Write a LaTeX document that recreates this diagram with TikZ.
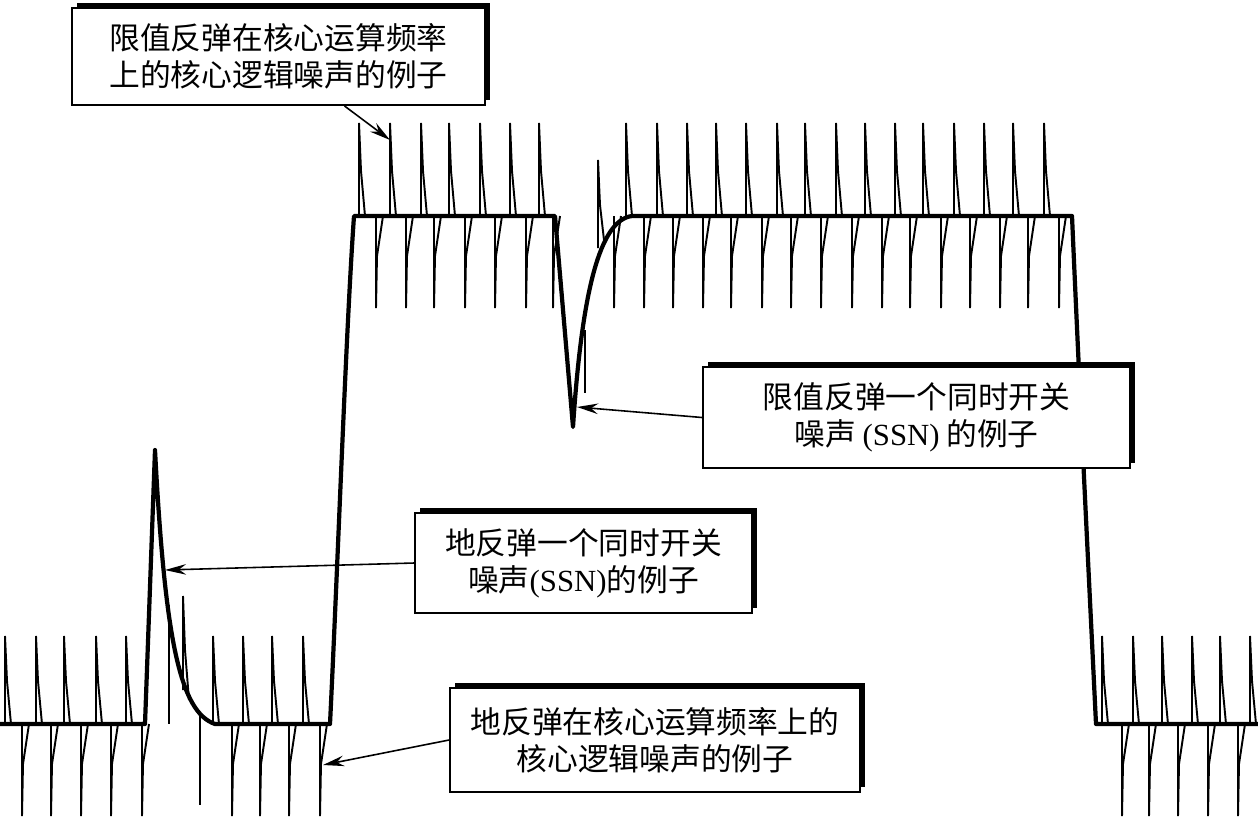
\documentclass[tikz,border=0pt]{standalone}
\usepackage{fontspec}
\setmainfont{Liberation Serif}
\newfontfamily\cjk{Noto Sans CJK SC}
\usetikzlibrary{shadows,arrows.meta}
\tikzset{
  wave/.style={
    line width=2.4pt, line join=round
  },
  spike/.style={
    line width=1.1pt, line join=miter
  },
  note box/.style={
    draw=black, line width=1.1pt, fill=white, align=center, inner sep=0pt,
    font=\cjk\fontsize{17.5}{21}\selectfont,
    drop shadow={shadow xshift=3pt, shadow yshift=3pt, fill=black, opacity=1}
  },
  pointer/.style={
    line width=0.9pt, -{Stealth[length=12pt, width=6pt, inset=4pt]}
  }
}

\begin{document}
\begin{tikzpicture}[x=0.02cm, y=-0.02cm]
\useasboundingbox (0,0) rectangle (1258,816);

% 主波形：地反弹、上升沿、限值反弹、下降沿
\draw[wave] (0,724) -- (145,724) -- (155,450)
  .. controls (165,640) and (180,712) .. (215,724) -- (330,724)
  .. controls (338,560) and (346,330) .. (354,216) -- (555,216)
  -- (573,427) .. controls (582,290) and (600,220) .. (632,216)
  -- (1072,216) .. controls (1080,400) and (1090,600) .. (1096,724)
  -- (1258,724);

% 高电平上的核心噪声
\foreach \x in {359,390,421,449,480,510,539,626,657,687,716,746,777,805,836,865,895,923,954,984,1013,1044}
  \draw[spike] (\x,216) -- ++(0,-93) -- ++(2,48) -- ++(4,45);
\foreach \x in {376,406,434,465,495,526,553,614,644,673,703,731,762,791,821,852,882,910,941,970,1000,1028,1059}
  \draw[spike] (\x+7,216) -- ++(-6,40) -- ++(-1,52) -- (\x,216);
\draw[spike] (598,248) -- (598,160) -- (600,205) -- (604,240);
\draw[spike] (585,330) -- (585,393);

% 低电平上的核心噪声
\foreach \x in {5,36,64,96,126,213,243,272,303,1102,1133,1162,1192,1220,1250}
  \draw[spike] (\x,724) -- ++(0,-88) -- ++(2,45) -- ++(4,43);
\foreach \x in {22,51,81,111,142,232,260,289,320,1122,1149,1178,1208,1238}
  \draw[spike] (\x+7,724) -- ++(-6,40) -- ++(-1,52) -- (\x,724);
\draw[spike] (183,690) -- (183,596) -- (185,650) -- (189,700);
\draw[spike] (200,714) -- (200,805);
\draw[spike] (169,605) -- (169,724);

% 箭头所指的位置
\coordinate (core hi) at (390,140);
\coordinate (ssn hi)  at (577,407);
\coordinate (ssn lo)  at (165,570);
\coordinate (core lo) at (323,765);

% 说明框
\node[note box, minimum width=8.26cm, minimum height=1.94cm] (note1) at (278.5,56.5)
  {限值反弹在核心运算频率\\上的核心逻辑噪声的例子};
\node[note box, minimum width=8.54cm, minimum height=2.02cm] (note2) at (916.5,417.5)
  {限值反弹一个同时开关\\噪声 {\rmfamily(SSN)} 的例子};
\node[note box, minimum width=6.74cm, minimum height=2cm] (note3) at (583.5,563)
  {地反弹一个同时开关\\噪声{\rmfamily(SSN)}的例子};
\node[note box, minimum width=8.2cm, minimum height=2.08cm] (note4) at (655,740)
  {地反弹在核心运算频率上的\\核心逻辑噪声的例子};

\draw[pointer] (note1) -- (core hi);
\draw[pointer] (note2.west) -- (ssn hi);
\draw[pointer] (note3.west) -- (ssn lo);
\draw[pointer] (note4.west) -- (core lo);

\end{tikzpicture}
\end{document}
